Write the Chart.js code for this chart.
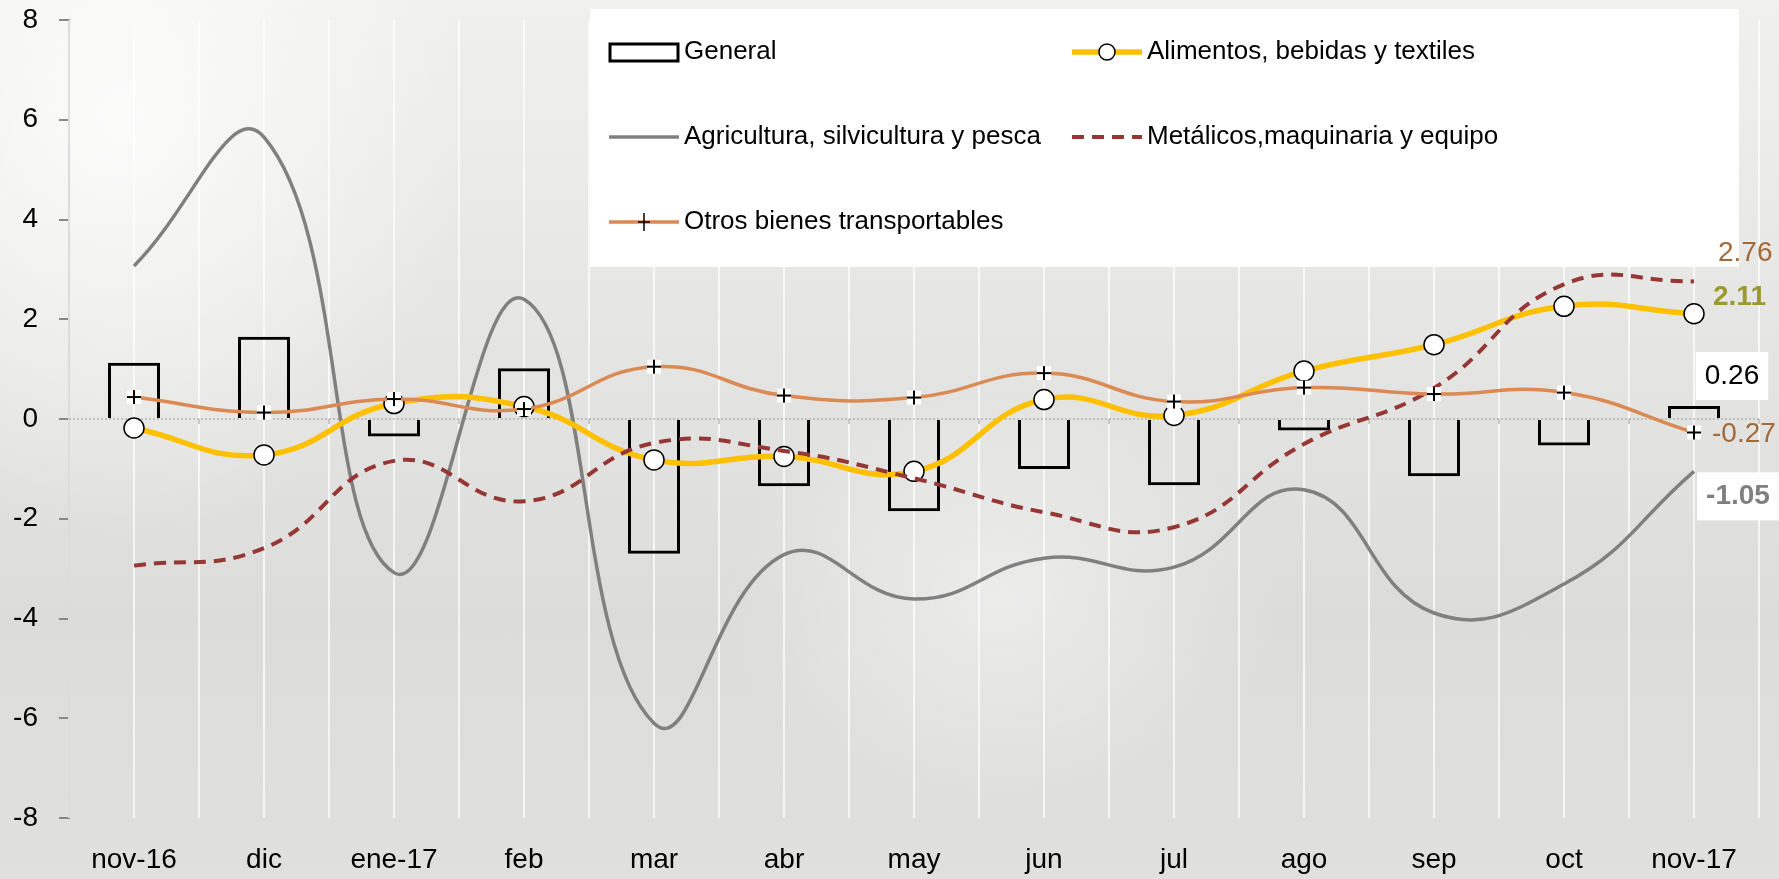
<!DOCTYPE html>
<html>
<head>
<meta charset="utf-8">
<script src="https://cdn.jsdelivr.net/npm/chart.js@4.4.1/dist/chart.umd.min.js"></script>
<style>
  html, body { margin: 0; padding: 0; }
  body {
    width: 1779px; height: 879px; overflow: hidden;
    background:
      radial-gradient(ellipse 500px 600px at 120px 120px, rgba(255,255,255,0.8), rgba(255,255,255,0) 70%),
      radial-gradient(ellipse 400px 300px at 1000px 600px, rgba(255,255,255,0.45), rgba(255,255,255,0) 70%),
      linear-gradient(180deg, #f0f0ee 0%, #e6e6e4 35%, #dcdcdb 70%, #e0e0de 100%);
  }
  canvas { display: block; }
</style>
</head>
<body>
<canvas id="myChart" width="1779" height="879"></canvas>
<script>
// data
var months = ["nov-16", "dic", "ene-17", "feb", "mar", "abr", "may", "jun", "jul", "ago", "sep", "oct", "nov-17"];
var general = [1.13, 1.65, -0.35, 1.02, -2.70, -1.35, -1.85, -1.00, -1.33, -0.23, -1.15, -0.53, 0.26];
var alimentos = [-0.18, -0.72, 0.31, 0.25, -0.82, -0.75, -1.05, 0.39, 0.07, 0.96, 1.49, 2.26, 2.11];
var agricultura = [3.07, 5.65, -3.08, 2.40, -6.10, -2.72, -3.61, -2.79, -2.97, -1.42, -3.89, -3.31, -1.05];
var metalicos = [-2.94, -2.59, -0.84, -1.65, -0.48, -0.64, -1.19, -1.87, -2.17, -0.50, 0.62, 2.70, 2.76];
var otros = [0.44, 0.13, 0.40, 0.20, 1.05, 0.47, 0.43, 0.92, 0.35, 0.63, 0.50, 0.53, -0.27];
var yTicks = [-8, -6, -4, -2, 0, 2, 4, 6, 8];

var FONT = "'Liberation Sans', Arial, sans-serif";

function plusMarker() {
  var c = document.createElement("canvas");
  c.width = 18;
  c.height = 18;
  var g = c.getContext("2d");
  g.fillStyle = "#fff";
  g.fillRect(2, 2, 14, 14);
  g.strokeStyle = "#000";
  g.lineWidth = 2;
  g.beginPath();
  g.moveTo(9, 2); g.lineTo(9, 16);
  g.moveTo(2, 9); g.lineTo(16, 9);
  g.stroke();
  return c;
}
var plus = plusMarker();

// white vertical lines, dotted zero line
var backLines = {
  id: "backLines",
  beforeDatasetsDraw: function(chart) {
    var ctx = chart.ctx, a = chart.chartArea, x = chart.scales.x, y = chart.scales.y;
    var step = x.getPixelForValue(1) - x.getPixelForValue(0);
    ctx.save();
    ctx.strokeStyle = "rgba(255,255,255,0.95)";
    ctx.lineWidth = 1.5;
    for (var i = 0; i <= months.length; i++) {
      var px = x.getPixelForValue(i) - step / 2;
      ctx.beginPath(); ctx.moveTo(px, a.top); ctx.lineTo(px, a.bottom); ctx.stroke();
      if (i < months.length) {
        ctx.beginPath(); ctx.moveTo(px + step / 2, a.top); ctx.lineTo(px + step / 2, a.bottom); ctx.stroke();
      }
    }
    var y0 = y.getPixelForValue(0);
    ctx.strokeStyle = "#9a9a9a";
    ctx.lineWidth = 1;
    ctx.setLineDash([2, 2]);
    ctx.beginPath(); ctx.moveTo(a.left, y0); ctx.lineTo(a.right, y0); ctx.stroke();
    ctx.setLineDash([]);
    for (var j = 1; j <= months.length; j++) {
      var bx = x.getPixelForValue(j) - step / 2;
      ctx.beginPath(); ctx.moveTo(bx, y0); ctx.lineTo(bx, y0 + 5); ctx.stroke();
    }
    ctx.restore();
  }
};

// legend box drawn over the plot, two columns
var legendBox = { left: 590, top: 9, right: 1739, bottom: 267, col: [609, 1072], row: [52, 137, 222] };
var boxLegend = {
  id: "boxLegend",
  afterDraw: function(chart) {
    var ctx = chart.ctx, L = legendBox;
    ctx.save();
    ctx.fillStyle = "#fff";
    ctx.fillRect(L.left, L.top, L.right - L.left, L.bottom - L.top);
    chart.data.datasets.forEach(function(ds, i) {
      var sx = L.col[i % 2], sy = L.row[Math.floor(i / 2)];
      if (ds.type === "bar") {
        ctx.strokeStyle = "#000";
        ctx.lineWidth = 3;
        ctx.strokeRect(sx + 1, sy - 8, 68, 17);
      } else {
        ctx.strokeStyle = ds.borderColor;
        ctx.lineWidth = ds.borderWidth;
        ctx.setLineDash(ds.borderDash || []);
        ctx.beginPath(); ctx.moveTo(sx, sy); ctx.lineTo(sx + 70, sy); ctx.stroke();
        ctx.setLineDash([]);
        if (ds.pointStyle === "circle") {
          ctx.fillStyle = "#fff";
          ctx.strokeStyle = "#000";
          ctx.lineWidth = 1.5;
          ctx.beginPath(); ctx.arc(sx + 35, sy, 8, 0, Math.PI * 2); ctx.fill(); ctx.stroke();
        } else if (ds.pointStyle === plus) {
          ctx.strokeStyle = "#000";
          ctx.lineWidth = 1.5;
          ctx.beginPath();
          ctx.moveTo(sx + 35, sy - 9); ctx.lineTo(sx + 35, sy + 9);
          ctx.moveTo(sx + 29, sy); ctx.lineTo(sx + 41, sy);
          ctx.stroke();
        }
      }
      ctx.fillStyle = "#000";
      ctx.font = "26px " + FONT;
      ctx.textBaseline = "middle";
      ctx.textAlign = "left";
      ctx.fillText(ds.label, sx + 75, sy);
    });
    ctx.restore();
  }
};

// value labels at the last month
var endLabels = [
  { dx: 38, dy: -30, color: "#000", bold: false, box: true, align: "center" },
  { dx: 19, dy: -16, color: "#9c9a2e", bold: true, box: false, align: "left" },
  { dx: 44, dy: 25, color: "#7f7f7f", bold: true, box: true, align: "center" },
  { dx: 24, dy: -28, color: "#a26a3a", bold: false, box: false, align: "left" },
  { dx: 18, dy: 2, color: "#a26a3a", bold: false, box: false, align: "left" }
];
var valueLabels = {
  id: "valueLabels",
  afterDraw: function(chart) {
    var ctx = chart.ctx;
    ctx.save();
    chart.data.datasets.forEach(function(ds, i) {
      var last = ds.data.length - 1;
      var el = chart.getDatasetMeta(i).data[last];
      var s = endLabels[i];
      var txt = ds.data[last].toFixed(2);
      var px = el.x + s.dx;
      var py = (ds.type === "bar" ? Math.min(el.y, el.base) : el.y) + s.dy;
      ctx.font = (s.bold ? "bold " : "") + "28px " + FONT;
      ctx.textBaseline = "middle";
      ctx.textAlign = s.align;
      if (s.box) {
        var w = ctx.measureText(txt).width + 18;
        ctx.fillStyle = "#fff";
        ctx.fillRect(px - w / 2, py - 24, w, 48);
      }
      ctx.fillStyle = s.color;
      ctx.fillText(txt, px, py);
    });
    ctx.restore();
  }
};

var ctx = document.getElementById("myChart").getContext("2d");
var chart = new Chart(ctx, {
  type: "bar",
  data: {
    labels: months,
    datasets: [
      {
        type: "bar",
        label: "General",
        data: general,
        backgroundColor: "rgba(0,0,0,0)",
        borderColor: "#000",
        borderWidth: 3,
        barPercentage: 0.4,
        categoryPercentage: 1,
        order: 5
      },
      {
        type: "line",
        label: "Alimentos, bebidas y textiles",
        data: alimentos,
        borderColor: "#ffc000",
        borderWidth: 5.5,
        tension: 0.45,
        pointStyle: "circle",
        pointRadius: 10,
        pointBackgroundColor: "#fff",
        pointBorderColor: "#000",
        pointBorderWidth: 1.5,
        order: 3
      },
      {
        type: "line",
        label: "Agricultura, silvicultura y pesca",
        data: agricultura,
        borderColor: "#808080",
        borderWidth: 3.5,
        tension: 0.45,
        pointRadius: 0,
        order: 4
      },
      {
        type: "line",
        label: "Metálicos,maquinaria y equipo",
        data: metalicos,
        borderColor: "#953735",
        borderWidth: 4,
        borderDash: [12, 8],
        tension: 0.45,
        pointRadius: 0,
        order: 2
      },
      {
        type: "line",
        label: "Otros bienes transportables",
        data: otros,
        borderColor: "#da8a52",
        borderWidth: 3.5,
        tension: 0.45,
        pointStyle: plus,
        pointRadius: 9,
        order: 1
      }
    ]
  },
  options: {
    responsive: false,
    animation: false,
    devicePixelRatio: 1,
    layout: { padding: { top: 20, right: 20, left: 0, bottom: 0 } },
    plugins: {
      legend: { display: false },
      tooltip: { enabled: false }
    },
    scales: {
      x: {
        offset: true,
        grid: { display: false, drawTicks: false },
        border: { display: false },
        ticks: { color: "#000", font: { family: FONT, size: 28 }, padding: 25, maxRotation: 0 },
        afterFit: function(s) { s.height = 61; }
      },
      y: {
        min: -8,
        max: 8,
        afterBuildTicks: function(s) { s.ticks = yTicks.map(function(v) { return { value: v }; }); },
        grid: { drawOnChartArea: false, color: "#888", lineWidth: 2, tickLength: 10 },
        border: { color: "#888", width: 2 },
        ticks: { color: "#000", font: { family: FONT, size: 28 }, padding: 21 },
        afterFit: function(s) {
          s.width = 69;
          s.paddingTop = 0;
          s.paddingBottom = 0;
        }
      }
    }
  },
  plugins: [backLines, boxLegend, valueLabels]
});
</script>
</body>
</html>
